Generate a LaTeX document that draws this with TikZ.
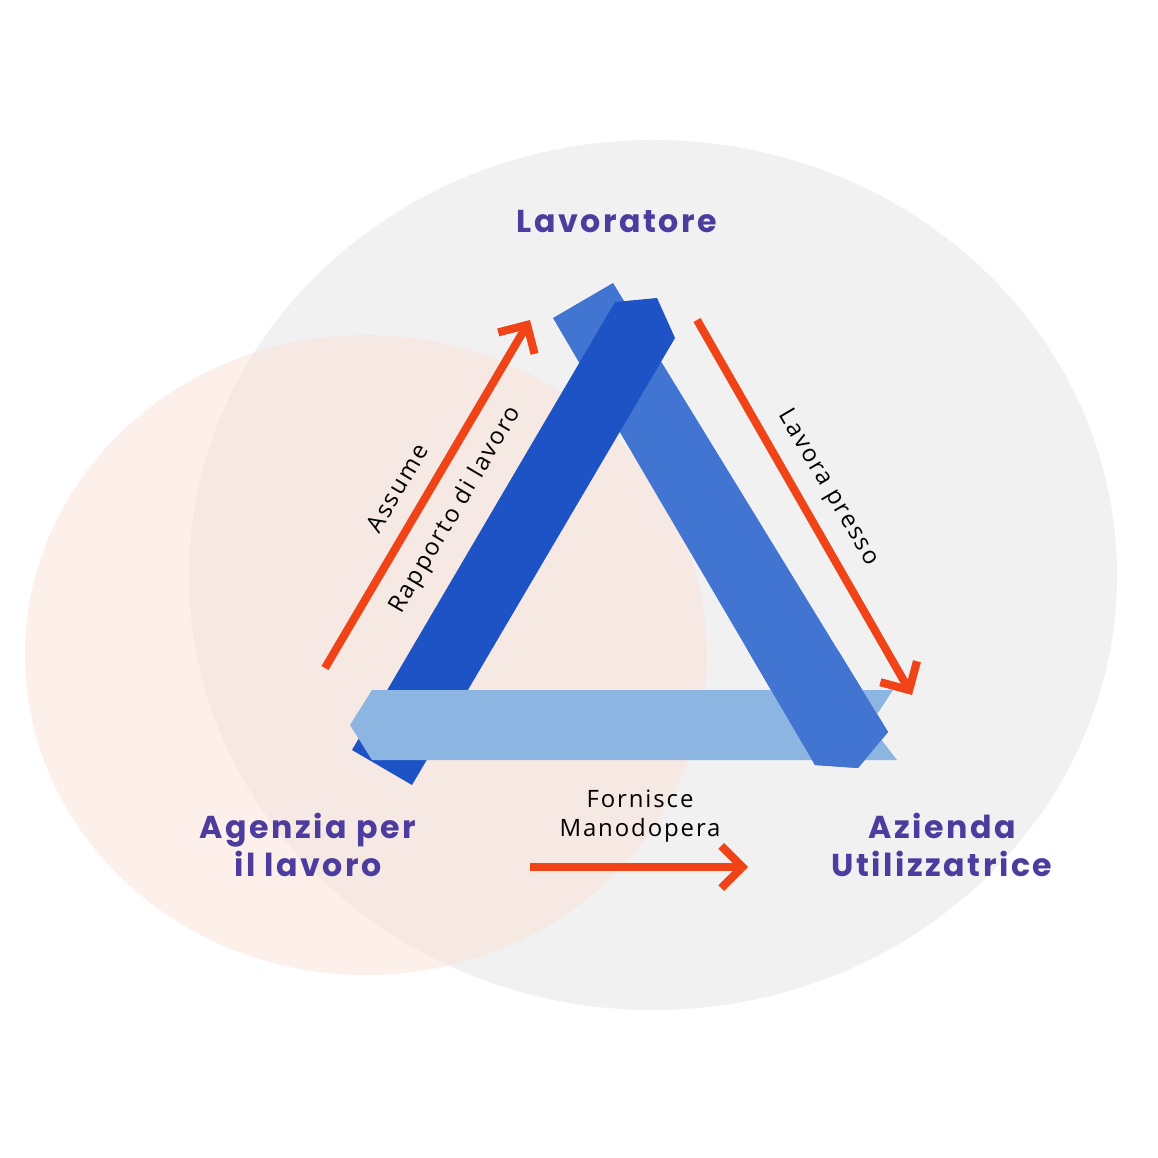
\documentclass[tikz,border=0pt]{standalone}
\usepackage{fontspec}
\setmainfont{Open Sans}
\newfontfamily\headfont[LetterSpace=8]{Poppins}
\newfontfamily\tagfont[LetterSpace=8]{Open Sans}
\usetikzlibrary{arrows.meta}
\definecolor{grayfill}{HTML}{F1F1F1}
\definecolor{peach}{HTML}{FBE3D8}
\definecolor{darkband}{HTML}{1E53C6}
\definecolor{midband}{HTML}{4274D1}
\definecolor{lightband}{HTML}{8DB5E2}
\definecolor{orangearrow}{HTML}{F04418}
\definecolor{purpletext}{HTML}{4B3C9E}
\begin{document}
\begin{tikzpicture}[
        x = 0.01cm, y = -0.01cm,
        % connector style
        relation/.style = {draw = orangearrow, line width = 2.3pt,
            -{Straight Barb[length=6pt,width=12pt,line width=2.3pt]}},
        party/.style = {text = purpletext, font = \headfont\bfseries\fontsize{9}{10.8}\selectfont,
            align = center, inner sep = 0pt},
        tag/.style = {font = \tagfont\fontsize{6.8}{8.2}\selectfont, inner sep = 0pt, align = center}
    ]

    \useasboundingbox (0,0) rectangle (1158,1158);

    % background circles
    \fill[grayfill] (653,575) ellipse [x radius = 464, y radius = 435];
    \fill[peach, opacity = 0.55] (366,655) ellipse [x radius = 341, y radius = 320];

    % bands of the triangle
    \def\midpath{(553,318) -- (613,283) -- (888,732) -- (858,768) -- (815,765) -- cycle}
    \fill[midband] \midpath;
    \fill[darkband] (352,750) -- (615,302) -- (657,298) -- (675,338) -- (412,785) -- cycle;
    \fill[lightband] (350,725) -- (372,690) -- (893,690) -- (870,725) -- (897,760) -- (372,760) -- cycle;
    \begin{scope}
        \clip (700,650) rectangle (950,800);
        \fill[midband] \midpath;
    \end{scope}

    % parties
    \node[party] (worker) at (617,222) {Lavoratore};
    \node[party] (agency) at (308,845) {Agenzia per\\il lavoro};
    \node[party] (company) at (942,845) {Azienda\\Utilizzatrice};

    % relations
    \coordinate (a1) at (325,668);
    \coordinate (a2) at (530,320);
    \coordinate (b1) at (697,320);
    \coordinate (b2) at (912,695);
    \coordinate (c1) at (530,867);
    \coordinate (c2) at (748,867);
    \draw[relation] (a1) -- (a2);
    \draw[relation] (b1) -- (b2);
    \draw[relation] (c1) -- (c2);

    \node[tag, rotate = 59.5] (hires) at (397,488) {Assume};
    \node[tag, rotate = 59.5] (contract) at (456,510) {Rapporto di lavoro};
    \node[tag, rotate = -59.5] (works) at (828,488) {Lavora presso};
    \node[tag] (supplies) at (640,816) {Fornisce\\Manodopera};
\end{tikzpicture}
\end{document}
